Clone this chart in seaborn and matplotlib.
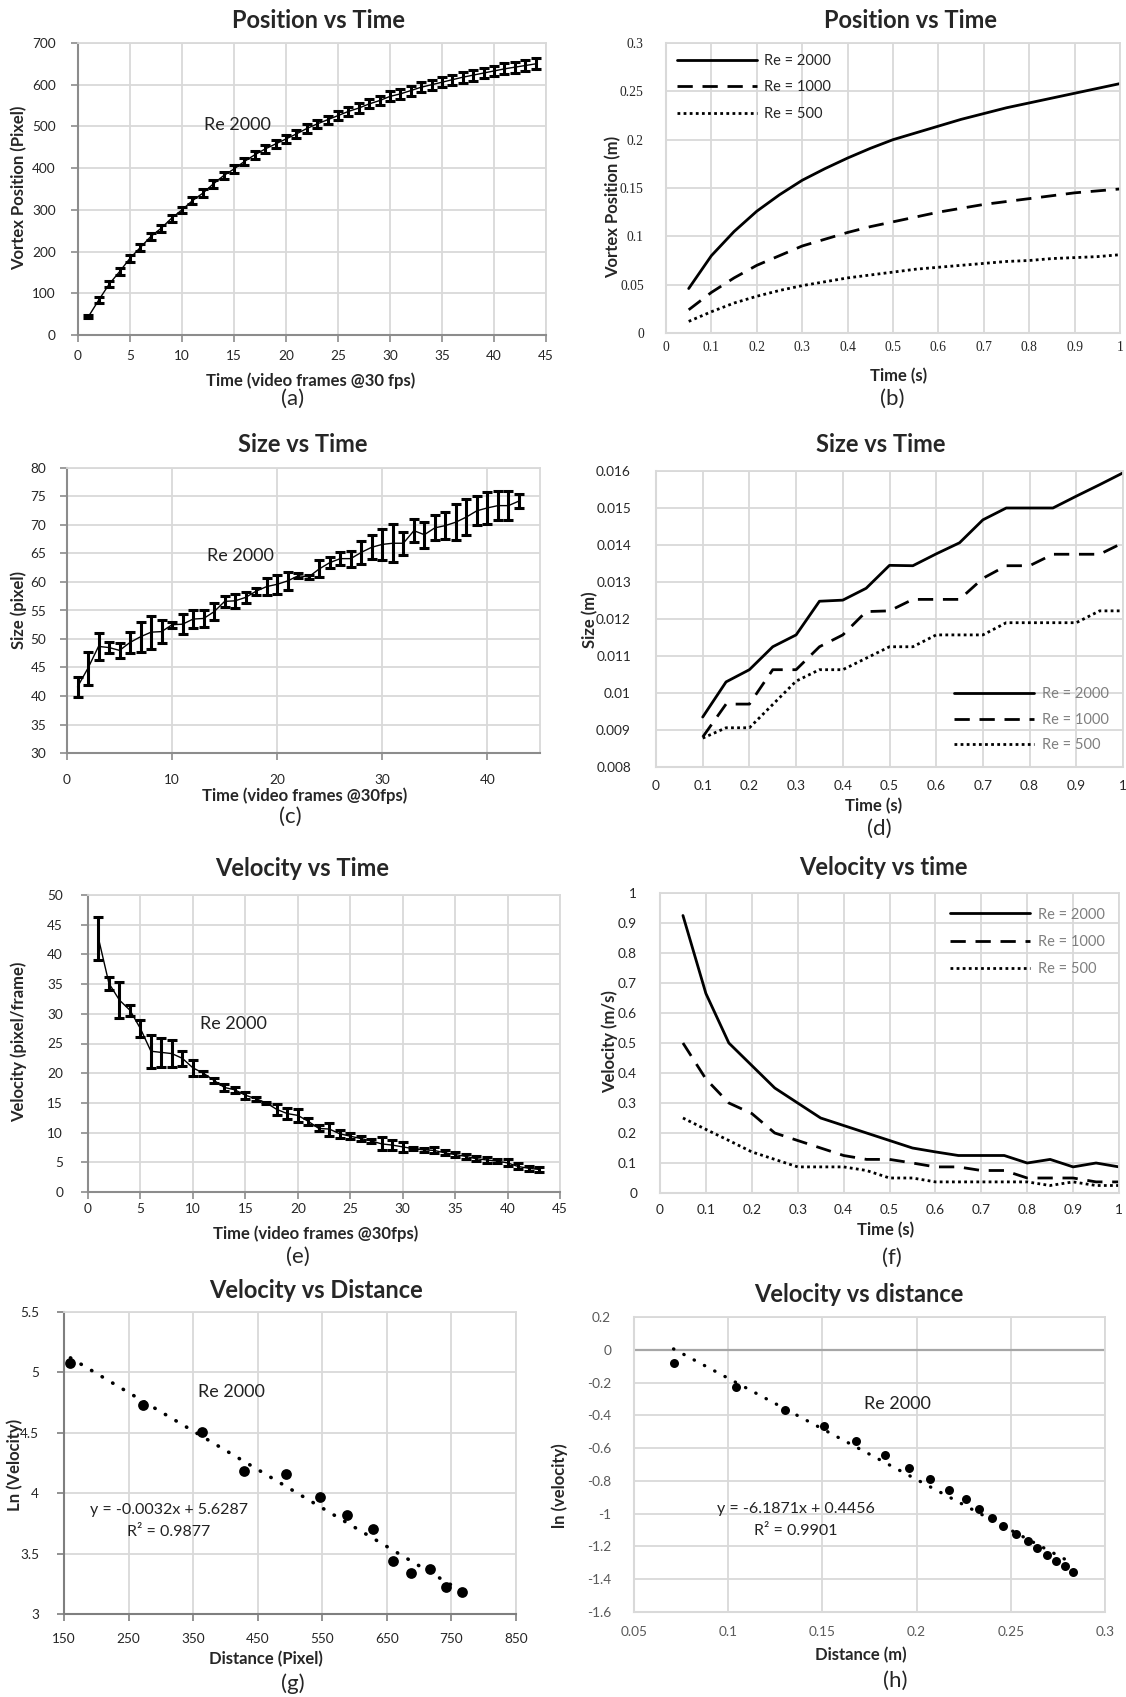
import numpy as np
import matplotlib
matplotlib.use('Agg')
import matplotlib.pyplot as plt
import seaborn as sns

# (a) position vs frame, Re 2000
frames_a = list(range(1, 45))
pos_a = [44, 84, 122, 152, 184, 210, 236, 256, 280, 300, 322, 340, 362, 382, 398, 416, 432, 446, 458, 470,
         482, 495, 506, 516, 526, 536, 544, 554, 562, 572, 578, 586, 594, 600, 606, 612, 618, 623, 628, 633,
         638, 642, 646, 650]
pos_a_err = [4, 8, 8, 8, 8, 8, 8, 8, 8, 8, 9, 9, 9, 9, 9, 9, 10, 10, 10, 10,
             10, 10, 10, 10, 11, 11, 11, 11, 11, 12, 12, 12, 12, 12, 12, 12, 13, 13, 13, 13,
             13, 13, 13, 13]

# (b) position vs time for three Re
time_b = [0.05, 0.1, 0.15, 0.2, 0.25, 0.3, 0.35, 0.4, 0.45, 0.5, 0.55, 0.6, 0.65, 0.7, 0.75, 0.8, 0.85, 0.9, 0.95, 1.0]
pos_2000 = [0.046, 0.080, 0.105, 0.126, 0.143, 0.158, 0.170, 0.181, 0.191, 0.200, 0.207, 0.214, 0.221, 0.227, 0.233, 0.238, 0.243, 0.248, 0.253, 0.258]
pos_1000 = [0.024, 0.042, 0.057, 0.070, 0.080, 0.090, 0.097, 0.104, 0.110, 0.115, 0.120, 0.125, 0.129, 0.133, 0.136, 0.139, 0.142, 0.145, 0.147, 0.149]
pos_500 = [0.012, 0.022, 0.031, 0.038, 0.044, 0.049, 0.053, 0.057, 0.060, 0.063, 0.066, 0.068, 0.070, 0.072, 0.074, 0.075, 0.077, 0.078, 0.079, 0.081]

# (c) size vs frame
frames_c = list(range(1, 44))
size_c = [41.6, 44.9, 48.7, 48.5, 48.0, 49.4, 50.4, 51.2, 51.3, 52.5, 52.6, 53.5, 53.6, 54.8, 56.6, 56.7, 57.3, 58.4, 59.2, 59.6,
          60.2, 61.1, 60.9, 62.3, 63.4, 64.1, 64.1, 65.2, 66.1, 66.6, 66.8, 66.8, 69.0, 68.3, 69.5, 69.9, 70.5, 71.4, 72.5, 73.0,
          73.4, 73.4, 74.2]
size_c_err = [1.7, 2.9, 2.3, 1.0, 1.3, 1.8, 2.6, 2.9, 2.0, 0.5, 1.8, 1.5, 1.5, 1.5, 0.9, 1.2, 1.0, 0.6, 1.5, 1.7,
              1.6, 0.4, 0.4, 1.5, 0.9, 1.2, 1.4, 2.0, 2.1, 2.7, 3.3, 2.0, 2.0, 2.3, 2.2, 2.4, 3.2, 3.2, 2.5, 2.8,
              2.6, 2.6, 1.3]

# (d) size vs time
time_d = [0.1, 0.15, 0.2, 0.25, 0.3, 0.35, 0.4, 0.45, 0.5, 0.55, 0.6, 0.65, 0.7, 0.75, 0.8, 0.85, 0.9, 0.95, 1.0]
size_2000 = [0.00935, 0.0103, 0.01063, 0.01125, 0.01157, 0.01248, 0.01251, 0.01283, 0.01345, 0.01344, 0.01376, 0.01406, 0.01468, 0.0150, 0.0150, 0.0150, 0.01532, 0.01563, 0.01595]
size_1000 = [0.00881, 0.0097, 0.0097, 0.01063, 0.01063, 0.01125, 0.01157, 0.0122, 0.01222, 0.01253, 0.01253, 0.01253, 0.0131, 0.01344, 0.01344, 0.01375, 0.01375, 0.01375, 0.01406]
size_500 = [0.00878, 0.00906, 0.00906, 0.00969, 0.01032, 0.01063, 0.01063, 0.01094, 0.01125, 0.01125, 0.01157, 0.01157, 0.01157, 0.0119, 0.0119, 0.0119, 0.0119, 0.01222, 0.01222]

# (e) velocity vs frame
frames_e = list(range(1, 44))
vel_e = [42.7, 35.1, 32.3, 30.6, 27.5, 23.7, 23.5, 23.3, 22.5, 20.9, 20.0, 18.8, 17.6, 17.2, 16.3, 15.7, 15.0, 13.9, 13.2, 12.9,
         11.9, 10.7, 10.6, 9.8, 9.4, 9.0, 8.6, 8.1, 7.9, 7.6, 7.3, 7.1, 7.0, 6.6, 6.3, 6.0, 5.6, 5.4, 5.2, 4.9,
         4.3, 4.0, 3.8]
vel_e_err = [3.6, 1.1, 3.0, 0.9, 1.4, 2.8, 2.4, 2.3, 1.3, 1.3, 0.4, 0.4, 0.6, 0.5, 0.6, 0.3, 0.2, 0.9, 0.9, 1.1,
             0.6, 0.5, 1.1, 0.7, 0.5, 0.4, 0.3, 1.1, 0.9, 0.9, 0.3, 0.3, 0.5, 0.4, 0.4, 0.4, 0.4, 0.5, 0.3, 0.6,
             0.5, 0.4, 0.4]

# (f) velocity vs time
time_f = time_b
vel_2000 = [0.925, 0.665, 0.500, 0.425, 0.350, 0.300, 0.250, 0.225, 0.200, 0.175, 0.150, 0.137, 0.125, 0.125, 0.125, 0.100, 0.112, 0.087, 0.100, 0.087]
vel_1000 = [0.500, 0.380, 0.300, 0.265, 0.200, 0.175, 0.150, 0.125, 0.112, 0.112, 0.100, 0.087, 0.087, 0.075, 0.075, 0.050, 0.050, 0.050, 0.037, 0.037]
vel_500 = [0.250, 0.212, 0.175, 0.137, 0.112, 0.087, 0.087, 0.087, 0.075, 0.050, 0.050, 0.037, 0.037, 0.037, 0.037, 0.037, 0.025, 0.037, 0.025, 0.025]

# (g) ln velocity vs distance (pixel)
dist_g = [160, 273, 364, 429, 494, 546, 588, 629, 660, 688, 717, 742, 767]
lnv_g = [5.08, 4.73, 4.51, 4.18, 4.16, 3.97, 3.82, 3.70, 3.44, 3.34, 3.37, 3.22, 3.18]

# (h) ln velocity vs distance (m)
dist_h = [0.071, 0.104, 0.130, 0.151, 0.168, 0.183, 0.196, 0.207, 0.217, 0.226, 0.233, 0.240, 0.246, 0.253, 0.259, 0.264, 0.269, 0.274, 0.279, 0.283]
lnv_h = [-0.08, -0.23, -0.365, -0.467, -0.559, -0.64, -0.72, -0.788, -0.853, -0.91, -0.97, -1.026, -1.077, -1.124, -1.165, -1.209, -1.25, -1.287, -1.321, -1.356]

re_labels = ['Re = 2000', 'Re = 1000', 'Re = 500']

W, H = 1126, 1697
GRID = '#d9d9d9'
AXIS = '#8c8c8c'
SOLID = '-'
DASH = (0, (5.5, 3.5))
DOT = (0, (1, 1.2))
TITLE = 17
LABEL = 12
LETTER = 16
NOTE = 13
EQ = 11.5

sns.set_theme(style='whitegrid')
plt.rcParams['font.family'] = ['Lato', 'DejaVu Sans']

fig = plt.figure(figsize=(W / 100, H / 100), dpi=100)
fig.patch.set_facecolor('white')


def box(l, t, r, b):
    return [l / W, 1 - b / H, (r - l) / W, (b - t) / H]


def put(x, y, s, **kw):
    fig.text(x / W, 1 - y / H, s, ha='center', va='center', **kw)


def fmt(v):
    v = round(v, 6)
    if abs(v) < 1e-9:
        v = 0
    return '%g' % v


def style(ax, xticks, yticks, xpad, ypad, ticks=False, axis_color=GRID, tick_color='#262626', serif=False):
    ax.set_xlim(xticks[0], xticks[-1])
    ax.set_ylim(yticks[0], yticks[-1])
    fam = ['Liberation Serif'] if serif else ['Lato', 'DejaVu Sans']
    ax.set_xticks(xticks, labels=[fmt(v) for v in xticks], fontfamily=fam)
    ax.set_yticks(yticks, labels=[fmt(v) for v in yticks], fontfamily=fam)
    ax.grid(True, color=GRID, lw=1.3)
    ax.set_facecolor('white')
    for side in ['top', 'right']:
        ax.spines[side].set_color(GRID)
        ax.spines[side].set_linewidth(1.3)
    for side in ['left', 'bottom']:
        ax.spines[side].set_color(axis_color)
        ax.spines[side].set_linewidth(1.5)
    ax.tick_params(labelsize=9.8, labelcolor=tick_color, direction='out',
                   length=5 if ticks else 0, width=1.2, color=axis_color,
                   bottom=ticks, left=ticks)
    ax.tick_params(axis='x', pad=xpad)
    ax.tick_params(axis='y', pad=ypad)
    ax.set_xlabel('')
    ax.set_ylabel('')


def three_lines(ax, t, s1, s2, s3):
    for vals, ls, lab in zip([s1, s2, s3], [SOLID, DASH, DOT], re_labels):
        sns.lineplot(x=t, y=vals, ax=ax, color='black', lw=2, linestyle=ls, label=lab, sort=False)


def err_line(ax, x, y, e, capsize):
    sns.lineplot(x=x, y=y, ax=ax, color='black', lw=1, sort=False)
    ax.errorbar(x, y, yerr=e, fmt='none', ecolor='black', elinewidth=2.2, capsize=capsize, capthick=2.2)


# ---- (a)
ax = fig.add_axes(box(78, 43, 546, 335))
err_line(ax, frames_a, pos_a, pos_a_err, 3.9)
style(ax, list(range(0, 50, 5)), list(range(0, 800, 100)), 6, 11, ticks=True, axis_color=AXIS)
ax.text(15.3, 504, 'Re 2000', fontsize=NOTE, ha='center', va='center', color='#222222')
put(318, 20, 'Position vs Time', fontsize=TITLE, fontweight='bold')
put(311, 381, 'Time (video frames @30 fps)', fontsize=LABEL, fontweight='bold')
put(19, 188, 'Vortex Position (Pixel)', fontsize=LABEL, fontweight='bold', rotation=90)
put(293, 399, '(a)', fontsize=LETTER)

# ---- (b)
ax = fig.add_axes(box(666, 43, 1120, 333))
three_lines(ax, time_b, pos_2000, pos_1000, pos_500)
style(ax, [round(v, 2) for v in np.arange(0, 1.01, 0.1)], [round(v, 2) for v in np.arange(0, 0.301, 0.05)],
      6, 16, serif=True)
ax.legend(loc='upper left', frameon=False, fontsize=10.5, handlelength=5.5, handletextpad=0.5,
          labelspacing=0.85, borderaxespad=0.35, labelcolor='#262626')
put(911, 20, 'Position vs Time', fontsize=TITLE, fontweight='bold')
put(899, 376, 'Time (s)', fontsize=LABEL, fontweight='bold')
put(613, 207, 'Vortex Position (m)', fontsize=LABEL, fontweight='bold', rotation=90)
put(892, 399, '(b)', fontsize=LETTER)

# ---- (c)
ax = fig.add_axes(box(67, 468, 540, 753))
err_line(ax, frames_c, size_c, size_c_err, 3.9)
style(ax, [0, 10, 20, 30, 40, 45], list(range(30, 85, 5)), 10, 10, ticks=True, axis_color=AXIS)
ax.set_xticks([0, 10, 20, 30, 40], labels=['0', '10', '20', '30', '40'])
ax.set_xlim(0, 45)
ax.text(16.5, 64.5, 'Re 2000', fontsize=NOTE, ha='center', va='center', color='#222222')
put(303, 445, 'Size vs Time', fontsize=TITLE, fontweight='bold')
put(305, 796, 'Time (video frames @30fps)', fontsize=LABEL, fontweight='bold')
put(19, 610, 'Size (pixel)', fontsize=LABEL, fontweight='bold', rotation=90)
put(290, 817, '(c)', fontsize=LETTER)

# ---- (d)
ax = fig.add_axes(box(656, 471, 1123, 767))
three_lines(ax, time_d, size_2000, size_1000, size_500)
style(ax, [round(v, 2) for v in np.arange(0, 1.01, 0.1)], [round(v, 4) for v in np.arange(0.008, 0.01601, 0.001)],
      9, 18)
ax.legend(loc='lower right', frameon=False, fontsize=10.5, handlelength=5.5, handletextpad=0.5,
          labelspacing=0.8, borderaxespad=0.6, labelcolor='#7f7f7f')
put(881, 444, 'Size vs Time', fontsize=TITLE, fontweight='bold')
put(874, 806, 'Time (s)', fontsize=LABEL, fontweight='bold')
put(590, 620, 'Size (m)', fontsize=LABEL, fontweight='bold', rotation=90)
put(879, 829, '(d)', fontsize=LETTER)

# ---- (e)
ax = fig.add_axes(box(88, 895, 560, 1192))
err_line(ax, frames_e, vel_e, vel_e_err, 3.9)
style(ax, list(range(0, 50, 5)), list(range(0, 55, 5)), 3, 13, ticks=True, axis_color=AXIS)
ax.text(13.9, 28.3, 'Re 2000', fontsize=NOTE, ha='center', va='center', color='#222222')
put(302, 868, 'Velocity vs Time', fontsize=TITLE, fontweight='bold')
put(316, 1234, 'Time (video frames @30fps)', fontsize=LABEL, fontweight='bold')
put(19, 1042, 'Velocity (pixel/frame)', fontsize=LABEL, fontweight='bold', rotation=90)
put(298, 1257, '(e)', fontsize=LETTER)

# ---- (f)
ax = fig.add_axes(box(660, 893, 1119, 1193))
three_lines(ax, time_f, vel_2000, vel_1000, vel_500)
style(ax, [round(v, 2) for v in np.arange(0, 1.01, 0.1)], [round(v, 2) for v in np.arange(0, 1.01, 0.1)],
      8, 16.5)
ax.legend(loc='upper right', frameon=False, fontsize=10.5, handlelength=5.5, handletextpad=0.5,
          labelspacing=0.9, borderaxespad=0.6, labelcolor='#7f7f7f')
put(883, 867, 'Velocity vs time', fontsize=TITLE, fontweight='bold')
put(886, 1230, 'Time (s)', fontsize=LABEL, fontweight='bold')
put(610, 1042, 'Velocity (m/s)', fontsize=LABEL, fontweight='bold', rotation=90)
put(892, 1258, '(f)', fontsize=LETTER)

# ---- (g)
ax = fig.add_axes(box(64, 1312, 516, 1614))
sns.regplot(x=dist_g, y=lnv_g, ax=ax, ci=None, color='black',
            scatter_kws={'s': 60, 'linewidths': 0, 'alpha': 1},
            line_kws={'lw': 2.6, 'linestyle': (0, (0.1, 3.3)), 'dash_capstyle': 'round'})
style(ax, list(range(150, 900, 100)), [3, 3.5, 4, 4.5, 5, 5.5], 8.5, 13, ticks=True, axis_color='#7f7f7f')
ax.text(410, 4.84, 'Re 2000', fontsize=NOTE, ha='center', va='center', color='#222222')
ax.text(313, 3.86, 'y = -0.0032x + 5.6287', fontsize=EQ, ha='center', va='center', color='#222222')
ax.text(312, 3.68, 'R² = 0.9877', fontsize=EQ, ha='center', va='center', color='#222222')
put(316, 1290, 'Velocity vs Distance', fontsize=TITLE, fontweight='bold')
put(266, 1659, 'Distance (Pixel)', fontsize=LABEL, fontweight='bold')
put(15, 1465, 'Ln (Velocity)', fontsize=LABEL, fontweight='bold', rotation=90)
put(293, 1684, '(g)', fontsize=LETTER)

# ---- (h)
ax = fig.add_axes(box(634, 1317, 1105, 1612))
ax.axhline(0, color='#a6a6a6', lw=1.6, zorder=1)
sns.regplot(x=dist_h, y=lnv_h, ax=ax, ci=None, color='black',
            scatter_kws={'s': 42, 'linewidths': 0, 'alpha': 1},
            line_kws={'lw': 2.4, 'linestyle': (0, (0.1, 3.4)), 'dash_capstyle': 'round'})
style(ax, [0.05, 0.1, 0.15, 0.2, 0.25, 0.3], [round(v, 1) for v in np.arange(-1.6, 0.21, 0.2)],
      10, 16.5, tick_color='#595959')
ax.text(0.1899, -0.331, 'Re 2000', fontsize=NOTE, ha='center', va='center', color='#222222')
ax.text(0.1358, -0.971, 'y = -6.1871x + 0.4456', fontsize=EQ, ha='center', va='center', color='#222222')
ax.text(0.1358, -1.108, 'R² = 0.9901', fontsize=EQ, ha='center', va='center', color='#222222')
put(859, 1295, 'Velocity vs distance', fontsize=TITLE, fontweight='bold')
put(861, 1655, 'Distance (m)', fontsize=LABEL, fontweight='bold')
put(560, 1486, 'ln (velocity)', fontsize=LABEL, fontweight='bold', rotation=90)
put(895, 1681, '(h)', fontsize=LETTER)

fig.savefig('out.png', dpi=100, facecolor='white')
